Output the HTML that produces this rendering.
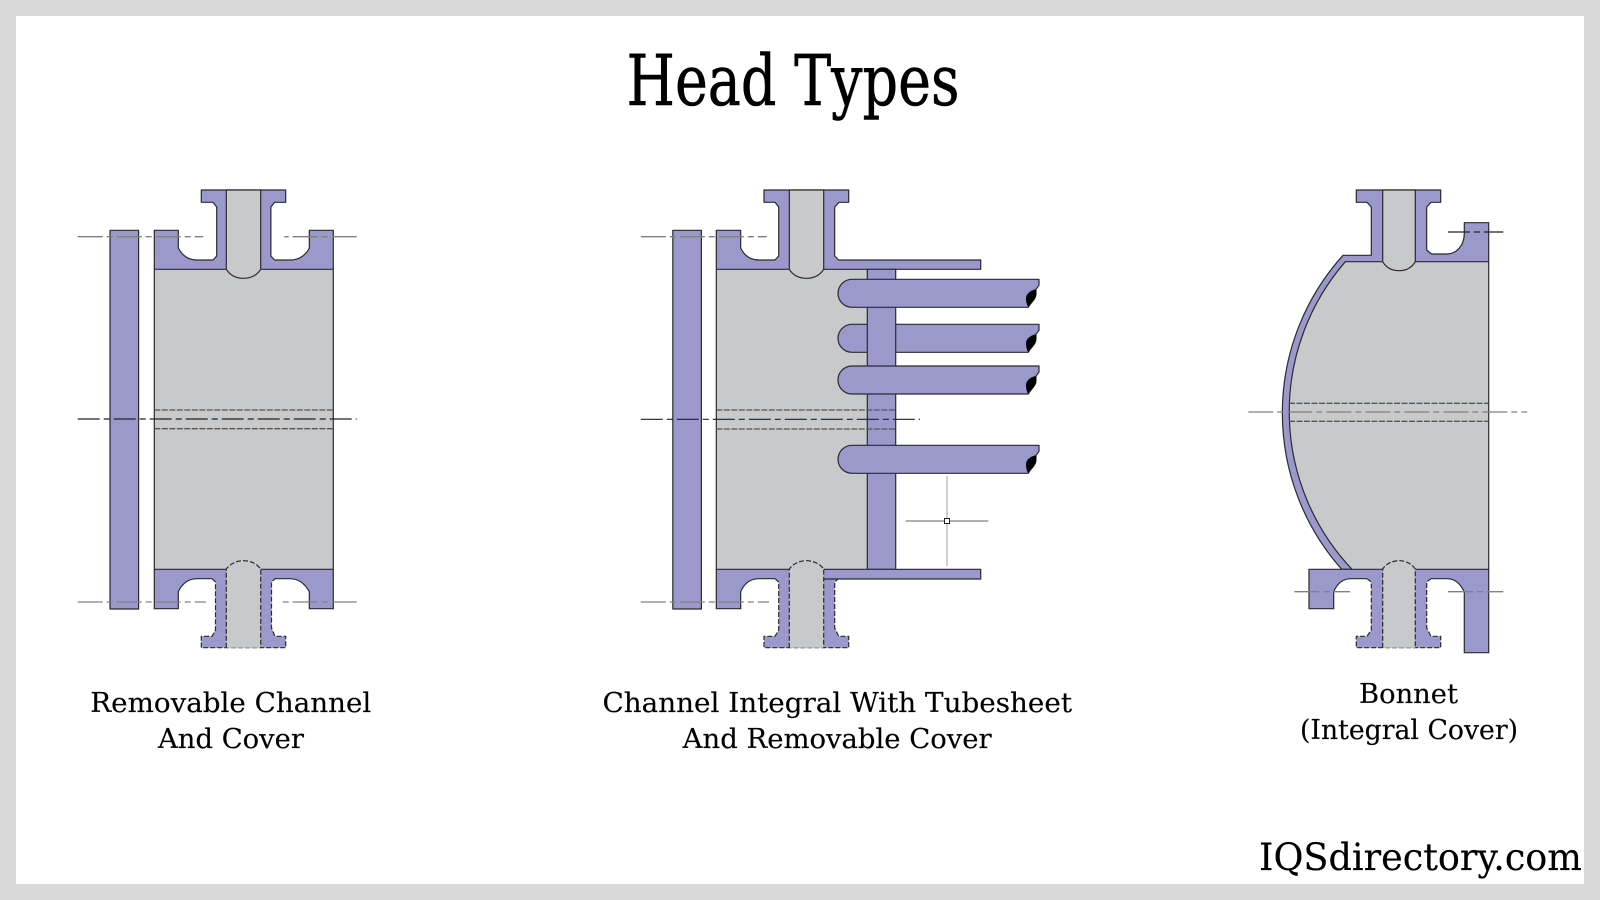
<!DOCTYPE html>
<html><head><meta charset="utf-8"><style>
html,body{margin:0;padding:0;width:1600px;height:900px;overflow:hidden;background:#d9d9d9}
svg{display:block}
text{font-family:"DejaVu Serif","Liberation Serif",serif;fill:#000}
.t{stroke:#000;stroke-width:.6}
.l{stroke:#000;stroke-width:.15}
.p{fill:#9b99cc;stroke:none}
.ps{fill:#9b99cc;stroke:#2a2a30;stroke-width:1.2;stroke-linejoin:round}
.g{fill:#c8c9cb;stroke:none}
.gs{fill:#c8c9cb;stroke:#2a2a30;stroke-width:1.2}
.s{fill:none;stroke:#2a2a30;stroke-width:1.2}
.d{fill:none;stroke:#2a2a30;stroke-width:1.2;stroke-dasharray:5 2}
.dh{fill:none;stroke:#555;stroke-width:1.3;stroke-dasharray:6 1.5}
.c{fill:none;stroke:#808080;stroke-width:1.3;stroke-dasharray:25 4 6 4}
.cd{fill:none;stroke:#222;stroke-width:1.2;stroke-dasharray:22 4 6 4}
</style></head><body>
<svg xmlns="http://www.w3.org/2000/svg" width="1600" height="900" viewBox="0 0 1600 900">
<rect x="16" y="16" width="1568" height="868" fill="#fff"/>

<text class="t" x="626.5" y="105" font-size="70" textLength="333" lengthAdjust="spacingAndGlyphs">Head Types</text>

<!-- Diagram 1 -->
<rect class="ps" x="110" y="230.3" width="28.6" height="378.7"/>
<rect class="g" x="154.3" y="269.3" width="179" height="300"/>
<path class="s" d="M154.3 269.3V569.3M333.3 269.3V569.3"/>
<path class="ps" d="M201.3 190H285.7V202.3H274.6L270.9 207V256L274.6 260H290.6C299 260 306 255 309.3 248V230.3H333.3V269.3H154.3V230.3H178.3V248C182 255 188 260 197 260H213L216.7 256V207L213 202.3H201.3Z"/>
<path class="gs" d="M226.3 190V269.3Q232 278.3 243.5 278.3Q255 278.3 260.7 269.3V190Z"/>
<path class="p" d="M154.3 569.3H333.3V608.7H309.3V591.7C305 584 299 578.7 290 578.7H275L271.5 582V628L275 636.3H285.7V647.7H201.3V636.3H212L215.5 630V582L212 578.7H197C188 578.7 182 584 178.3 591.7V608.7H154.3Z"/>
<path class="s" d="M226.3 569.3H154.3V608.7H178.3V591.7C182 584 188 578.7 197 578.7H212M275 578.7H290C299 578.7 305 584 309.3 591.7V608.7H333.3V569.3H260.7"/>
<path class="d" d="M212 578.7L215.5 582V630L212 636.3H201.3V647.7H285.7V636.3H275L271.5 628V582L275 578.7"/>
<path class="g" d="M226.3 647.7V569C230 564 236 560.7 243.5 560.7C251 560.7 257 564 260.7 569V647.7Z"/>
<path class="d" d="M226.3 647.7V569C230 564 236 560.7 243.5 560.7C251 560.7 257 564 260.7 569V647.7"/>
<path class="dh" d="M154.3 410H333.3M154.3 428.7H333.3"/>
<path class="cd" d="M77.7 419H356.7"/>
<path class="c" d="M77.7 236.7H203.3M356.7 236.7H284.3M77.7 602H206M356.7 602H280"/>

<!-- Diagram 2 -->
<rect class="ps" x="672.8" y="230.3" width="28.6" height="378.7"/>
<rect class="g" x="716.3" y="269.3" width="151" height="300"/>
<path class="s" d="M716.3 269.3V569.3"/>
<path class="ps" d="M764 190H848.7V202.3H839L834.7 207V256L838.7 260H980.7V269.3H716.3V230.3H740.7V248C744 255 750 260 759 260H775L778.7 256V207L775 202.3H764Z"/>
<path class="gs" d="M789.3 190V269.3Q795 278.3 806.5 278.3Q818 278.3 823.7 269.3V190Z"/>
<!-- tube 2 behind sheet -->
<path class="ps" d="M1039 324.3V330.3Q1037.5 332.5 1036 334.3V339.3C1036 344.3 1030 348.3 1028.3 352.3H852A14 14 0 0 1 852 324.3Z"/>
<path fill="#000" d="M1036 334.3C1030 335.3 1026 339.3 1026 343.3C1026 347.3 1027 350.3 1028.3 352.3C1030 348.3 1036 344.3 1036 339.3Z"/>
<rect class="ps" x="867.3" y="269.3" width="28.4" height="300"/>
<!-- tube 1 -->
<path class="ps" d="M1039 279.3V285.3Q1037.5 287.5 1036 289.3V294.3C1036 299.3 1030 303.3 1028.3 307.3H852A14 14 0 0 1 852 279.3Z"/>
<path fill="#000" d="M1036 289.3C1030 290.3 1026 294.3 1026 298.3C1026 302.3 1027 305.3 1028.3 307.3C1030 303.3 1036 299.3 1036 294.3Z"/>
<!-- tube 3 -->
<path class="ps" d="M1039 366V372Q1037.5 374.2 1036 376V381C1036 386 1030 390 1028.3 394H852A14 14 0 0 1 852 366Z"/>
<path fill="#000" d="M1036 376C1030 377 1026 381 1026 385C1026 389 1027 392 1028.3 394C1030 390 1036 386 1036 381Z"/>
<!-- tube 4 -->
<path class="ps" d="M1039 445.3V451.3Q1037.5 453.5 1036 455.3V460.3C1036 465.3 1030 469.3 1028.3 473.3H852A14 14 0 0 1 852 445.3Z"/>
<path fill="#000" d="M1036 455.3C1030 456.3 1026 460.3 1026 464.3C1026 468.3 1027 471.3 1028.3 473.3C1030 469.3 1036 465.3 1036 460.3Z"/>
<path class="p" d="M716.3 569.3H980.7V579H838L834.7 582V628L838.7 636.3H848.7V647.7H764V636.3H775L778.7 630V582L775 578.7H759C750 578.7 744 584 740.7 591.7V608.7H716.3Z"/>
<path class="s" d="M789.3 569.3H716.3V608.7H740.7V591.7C744 584 750 578.7 759 578.7H775M823.7 569.3H980.7V579H824"/>
<path class="d" d="M775 578.7L778.7 582V630L775 636.3H764V647.7H848.7V636.3H838.7L834.7 628V582L838 579"/>
<path class="g" d="M789.3 647.7V569C793 564 799 560.7 806.5 560.7C814 560.7 820 564 823.7 569V647.7Z"/>
<path class="d" d="M789.3 647.7V569C793 564 799 560.7 806.5 560.7C814 560.7 820 564 823.7 569V647.7"/>
<path class="dh" d="M716.3 410H895.7M716.3 429H895.7"/>
<path class="cd" d="M640.8 419.3H920"/>
<path class="c" d="M640.8 236.7H766.7M640.8 602H769"/>
<path d="M905.7 521H988.3" stroke="#808080" stroke-width="1.3" fill="none"/>
<path d="M947 476V566" stroke="#b5b5b5" stroke-width="1.3" fill="none"/>
<rect x="944.5" y="518.5" width="5" height="5" fill="#fff" stroke="#222" stroke-width="1"/>

<!-- Diagram 3 -->
<path class="g" d="M1345.3 261.7H1488.7V569.3H1352A229 229 0 0 1 1345.3 261.7Z"/>
<path class="s" d="M1488.7 261.7V569.3"/>
<path class="ps" d="M1356.3 190H1440.7V202.3H1431L1426.7 207V250L1431.5 254H1447C1456 254 1464.3 246 1464.3 233.3V222.7H1488.7V261.7H1345.3A229 229 0 0 0 1352 569.3H1341.7A235.4 235.4 0 0 1 1343 255.3H1371.3V207L1367 202.3H1356.3Z"/>
<path class="gs" d="M1382.7 190V261.7Q1388 270.7 1399 270.7Q1410 270.7 1415.3 261.7V190Z"/>
<path class="p" d="M1309 569.3H1488.7V652.7H1464.3V591.7C1460 584 1456 578.7 1447 578.7H1431L1426.7 582V628L1431 636.3H1440.7V647.7H1356.3V636.3H1367L1371.3 630V582L1367 578.7H1351C1342 578.7 1337 584 1333.7 591.7V608.7H1309Z"/>
<path class="s" d="M1382.7 569.3H1309V608.7H1333.7V591.7C1337 584 1342 578.7 1351 578.7H1367M1431 578.7H1447C1456 578.7 1460 584 1464.3 591.7V652.7H1488.7V569.3H1415.3"/>
<path class="d" d="M1367 578.7L1371.3 582V630L1367 636.3H1356.3V647.7H1440.7V636.3H1431L1426.7 628V582L1431 578.7"/>
<path class="g" d="M1382.7 647.7V569C1386 564 1392 560.7 1399 560.7C1406 560.7 1412 564 1415.3 569V647.7Z"/>
<path class="d" d="M1382.7 647.7V569C1386 564 1392 560.7 1399 560.7C1406 560.7 1412 564 1415.3 569V647.7"/>
<path class="dh" d="M1289 403.3H1488.7M1289 421.3H1488.7"/>
<path class="c" d="M1248.3 412H1527.3M1294.3 591.7H1350M1448 591.7H1503.3"/>
<path class="cd" d="M1448 232H1503.3"/>

<!-- Labels -->
<text class="l" x="90.3" y="712" font-size="27" textLength="281" lengthAdjust="spacingAndGlyphs">Removable Channel</text>
<text class="l" x="158" y="748" font-size="27" textLength="146" lengthAdjust="spacingAndGlyphs">And Cover</text>
<text class="l" x="602.5" y="712" font-size="27" textLength="469.5" lengthAdjust="spacingAndGlyphs">Channel Integral With Tubesheet</text>
<text class="l" x="682.7" y="748" font-size="27" textLength="309" lengthAdjust="spacingAndGlyphs">And Removable Cover</text>
<text class="l" x="1359" y="703" font-size="27" textLength="99" lengthAdjust="spacingAndGlyphs">Bonnet</text>
<text class="l" x="1300" y="739" font-size="27" textLength="218" lengthAdjust="spacingAndGlyphs">(Integral Cover)</text>
<text class="l" x="1259" y="870" font-size="37" textLength="323" lengthAdjust="spacingAndGlyphs">IQSdirectory.com</text>
</svg>
</body></html>
